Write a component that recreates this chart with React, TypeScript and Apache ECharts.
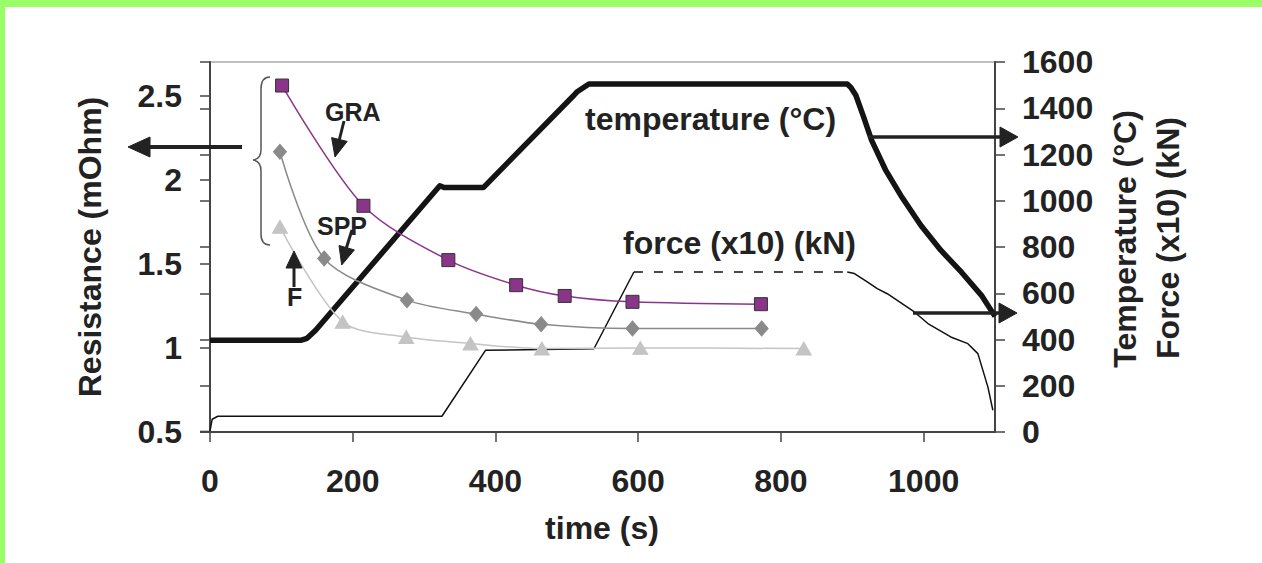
import React, { useEffect, useRef } from "react";
import * as echarts from "echarts";

// ---- axis ticks ----
const timeTicks = [0, 200, 400, 600, 800, 1000];
const resistanceTicks = [0.5, 1, 1.5, 2, 2.5];

// ---- resistance series (left axis, mOhm) ----
const graTime = [101, 215, 334, 429, 497, 592, 772];
const graRes = [2.56, 1.845, 1.522, 1.373, 1.309, 1.274, 1.26];
const sppTime = [98, 160, 276, 373, 464, 592, 773];
const sppRes = [2.166, 1.532, 1.284, 1.201, 1.141, 1.116, 1.116];
const fTime = [98, 186, 275, 365, 465, 603, 832];
const fRes = [1.72, 1.155, 1.065, 1.026, 0.996, 1.0, 0.996];

// ---- temperature (right axis, °C) ----
const tempTime = [0, 128, 136, 148, 322, 328, 383, 510, 514, 531, 893, 898, 905, 915, 927, 947, 968, 996, 1024, 1053, 1081, 1100];
const tempValue = [397, 397, 405, 440, 1065, 1057, 1057, 1456, 1470, 1505, 1505, 1490, 1456, 1370, 1262, 1131, 1023, 894, 786, 691, 591, 500];

// ---- force x10 (right axis, kN) ----
const forceTime = [0, 3, 11, 325, 386, 538, 594];
const forceValue = [5, 55, 68, 68, 353, 360, 692];
const forcePlateauTime = [594, 893];
const forcePlateauValue = [692, 692];
const forceEndTime = [893, 903, 921, 935, 949, 987, 1006, 1038, 1062, 1076, 1090, 1097];
const forceEndValue = [692, 685, 649, 620, 598, 519, 469, 411, 382, 339, 195, 94];

const zip = (a: number[], b: number[]) => a.map((v, i) => [v, b[i]]);

const FONT = '"Liberation Sans", Arial, Helvetica, sans-serif';
const TXT = "#222";
const AX = "#444";

function txt(text: string, x: number, y: number, size: number, align: string, rotation = 0) {
  return {
    type: "text",
    x,
    y,
    rotation,
    z: 100,
    style: {
      text,
      fill: TXT,
      font: `bold ${size}px ${FONT}`,
      textAlign: align,
      align,
      textVerticalAlign: "middle",
      verticalAlign: "middle",
    },
  };
}

function arrowLine(x1: number, y1: number, x2: number, y2: number, w: number, color = "#222") {
  return {
    type: "line",
    z: 100,
    shape: { x1, y1, x2, y2 },
    style: { stroke: color, lineWidth: w },
  };
}

function head(points: number[][]) {
  return {
    type: "polygon",
    z: 100,
    shape: { points },
    style: { fill: "#222", stroke: "#222", lineWidth: 1 },
  };
}

const braceD =
  "M 270 77 Q 261 77 261 89 L 261 150 Q 261 159 253 160 Q 261 161 261 171 L 261 234 Q 261 245 270 245";
echarts.graphic.registerShape("brace", echarts.graphic.extendPath(braceD, {}) as any);

const plain = (v: number) => String(v);

export default function App() {
  const ref = useRef<HTMLDivElement>(null);

  useEffect(() => {
    document.body.style.margin = "0";
    const chart = echarts.init(ref.current!, null, { renderer: "svg" });

    const markerLine = (name: string, data: number[][], color: string, symbol: string, size: any, border: string) => ({
      name,
      type: "line",
      xAxisIndex: 0,
      yAxisIndex: 0,
      data,
      smooth: 0.3,
      symbol,
      symbolSize: size,
      showSymbol: true,
      lineStyle: { color, width: 1.5 },
      itemStyle: { color, borderColor: border, borderWidth: 1 },
      z: 5,
    });

    chart.setOption({
      animation: false,
      backgroundColor: "#fff",
      textStyle: { fontFamily: FONT },
      grid: {
        left: 210,
        right: 267,
        top: 62,
        bottom: 131,
        show: true,
        borderColor: "#aaa",
        borderWidth: 1.5,
        backgroundColor: "transparent",
      },
      xAxis: {
        type: "value",
        min: 0,
        max: 1100,
        interval: 200,
        axisLine: { show: true, onZero: false, lineStyle: { color: AX, width: 2 } },
        axisTick: { show: true, length: 10, customValues: timeTicks, lineStyle: { color: AX, width: 1.5 } },
        axisLabel: {
          customValues: timeTicks,
          formatter: plain,
          margin: 33,
          color: TXT,
          fontSize: 32,
          fontWeight: "bold",
          fontFamily: FONT,
        },
        splitLine: { show: false },
      },
      yAxis: [
        {
          type: "value",
          position: "left",
          min: 0.5,
          max: 2.7,
          interval: 0.5,
          axisLine: { show: true, onZero: false, lineStyle: { color: AX, width: 2 } },
          axisTick: { show: true, length: 10, customValues: resistanceTicks, lineStyle: { color: AX, width: 1.5 } },
          axisLabel: {
            customValues: resistanceTicks,
            formatter: plain,
            margin: 28,
            color: TXT,
            fontSize: 32,
            fontWeight: "bold",
            fontFamily: FONT,
          },
          splitLine: { show: false },
        },
        {
          type: "value",
          position: "right",
          min: 0,
          max: 1600,
          interval: 200,
          axisLine: { show: true, onZero: false, lineStyle: { color: AX, width: 2 } },
          axisTick: { show: true, length: 10, lineStyle: { color: AX, width: 1.5 } },
          axisLabel: {
            formatter: plain,
            margin: 27,
            color: TXT,
            fontSize: 32,
            fontWeight: "bold",
            fontFamily: FONT,
          },
          splitLine: { show: false },
        },
        {
          type: "value",
          position: "right",
          min: 0,
          max: 1600,
          interval: 200,
          axisLine: { show: false },
          axisTick: { show: true, inside: true, length: 10, lineStyle: { color: AX, width: 1.5 } },
          axisLabel: { show: false },
          splitLine: { show: false },
        },
      ],
      series: [
        {
          name: "temperature",
          type: "line",
          yAxisIndex: 1,
          data: zip(tempTime, tempValue),
          showSymbol: false,
          symbol: "none",
          lineStyle: { color: "#141414", width: 5.5, join: "round" },
          z: 3,
        },
        {
          name: "force",
          type: "line",
          yAxisIndex: 1,
          data: zip(forceTime, forceValue),
          showSymbol: false,
          symbol: "none",
          lineStyle: { color: "#111", width: 1.5 },
          z: 3,
        },
        {
          name: "force plateau",
          type: "line",
          yAxisIndex: 1,
          data: zip(forcePlateauTime, forcePlateauValue),
          showSymbol: false,
          symbol: "none",
          lineStyle: { color: "#111", width: 1.5, type: [9, 11] },
          z: 3,
        },
        {
          name: "force end",
          type: "line",
          yAxisIndex: 1,
          data: zip(forceEndTime, forceEndValue),
          showSymbol: false,
          symbol: "none",
          lineStyle: { color: "#111", width: 1.5 },
          z: 3,
        },
        markerLine("F", zip(fTime, fRes), "#c4c4c4", "triangle", [15, 13], "#c4c4c4"),
        markerLine("SPP", zip(sppTime, sppRes), "#8a8a8a", "diamond", [13, 15], "#8a8a8a"),
        markerLine("GRA", zip(graTime, graRes), "#8a358a", "rect", 13, "#333"),
      ],
      graphic: [
        { type: "rect", z: 200, shape: { x: 0, y: 0, width: 1262, height: 7 }, style: { fill: "#99ff66" } },
        { type: "rect", z: 200, shape: { x: 0, y: 0, width: 5, height: 563 }, style: { fill: "#99ff66" } },
        // small extension of the x axis line left of the origin
        arrowLine(200, 431.7, 210, 431.7, 2, AX),
        // axis names
        txt("Resistance (mOhm)", 90, 247, 32, "center", Math.PI / 2),
        txt("Temperature (°C)", 1125, 239, 32, "center", Math.PI / 2),
        txt("Force (x10) (kN)", 1168, 238, 32, "center", Math.PI / 2),
        txt("time (s)", 602, 528, 32, "center"),
        // in-plot labels
        txt("temperature (°C)", 585, 119, 32, "left"),
        txt("force (x10) (kN)", 623, 243, 32, "left"),
        txt("GRA", 325, 112, 25, "left"),
        txt("SPP", 317, 226, 25, "left"),
        txt("F", 287, 297, 25, "left"),
        // brace
        { type: "brace", z: 100, x: 0, y: 0, style: { stroke: "#555", fill: "none", lineWidth: 1.5 } },
        // left arrow
        arrowLine(242, 147, 145, 147, 4),
        head([[128, 147], [150, 137], [150, 157]]),
        // GRA arrow
        arrowLine(344, 121, 339, 141, 3),
        head([[335, 157], [347.2, 141.4], [331.6, 137.6]]),
        // SPP arrow
        arrowLine(352, 230, 346, 249, 3),
        head([[341.7, 265], [354.4, 249.9], [339, 245.5]]),
        // F arrow
        arrowLine(294, 287, 294, 266, 3),
        head([[294, 251], [286, 268], [302, 268]]),
        // right arrows
        arrowLine(868, 137, 1003, 137, 3.5),
        head([[1018, 137], [1000, 127], [1000, 147]]),
        arrowLine(913, 313, 1002, 313, 3.5),
        head([[1017, 313], [999, 303], [999, 323]]),
      ],
    });

    return () => chart.dispose();
  }, []);

  return (
    <div
      ref={ref}
      style={{ position: "fixed", left: 0, top: 0, width: 1262, height: 563, background: "#fff" }}
    />
  );
}
